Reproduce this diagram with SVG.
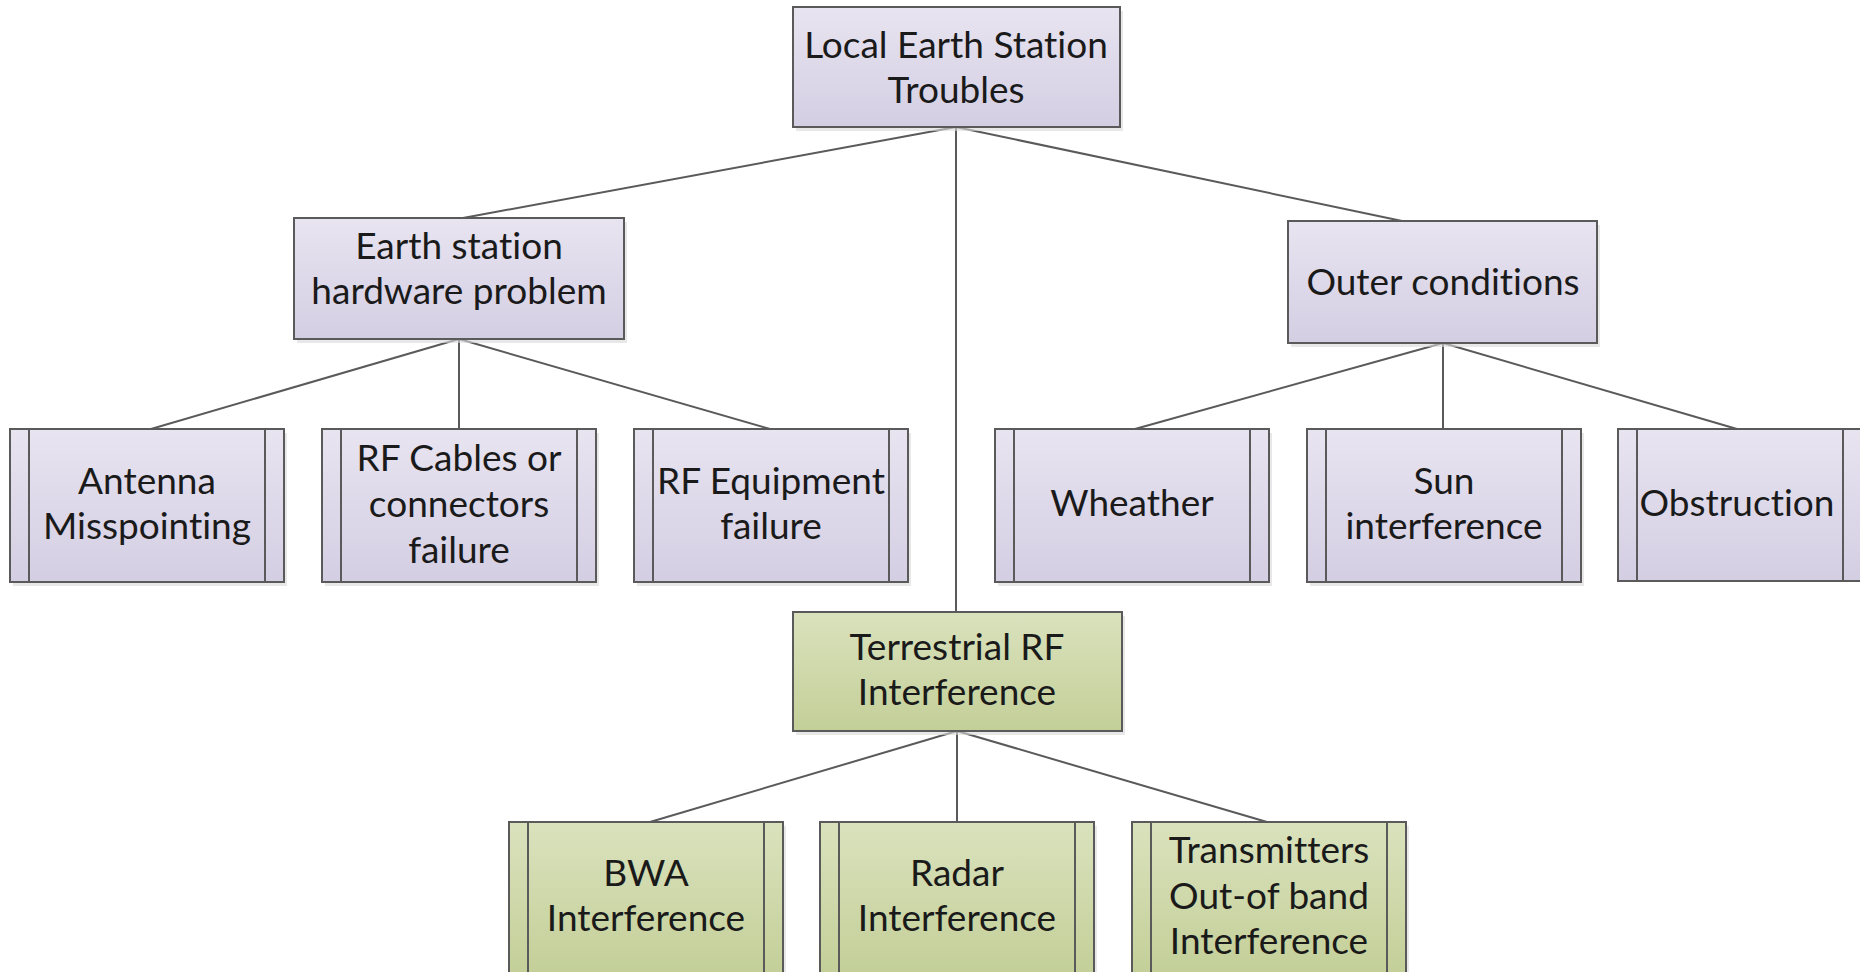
<svg xmlns="http://www.w3.org/2000/svg" width="1860" height="972" viewBox="0 0 1860 972">
<defs>
<linearGradient id="gp" x1="0" y1="0" x2="0" y2="1">
<stop offset="0" stop-color="#e8e4f0"/>
<stop offset="1" stop-color="#d4cee3"/>
</linearGradient>
<linearGradient id="gg" x1="0" y1="0" x2="0" y2="1">
<stop offset="0" stop-color="#dae2bd"/>
<stop offset="1" stop-color="#c3cf98"/>
</linearGradient>
</defs>
<style>
.p{fill:url(#gp);stroke:#5a5a5a;stroke-width:2}
.g{fill:url(#gg);stroke:#5a5a5a;stroke-width:2}
.sh{fill:#d9d9d9;opacity:0.6}
.bar{stroke:#5a5a5a;stroke-width:2;fill:none}
text{font-family:"Lato","Liberation Sans",sans-serif;font-size:37px;fill:#1a1a1a;text-anchor:middle;font-variant-ligatures:none}
.c line{stroke:#5a5a5a;stroke-width:2}
</style>
<g class="c" id="connectors">
<line x1="956" y1="127" x2="463" y2="218"/>
<line x1="956" y1="127" x2="956" y2="612"/>
<line x1="956" y1="127" x2="1402" y2="221"/>
<line x1="459" y1="339" x2="151" y2="429"/>
<line x1="459" y1="339" x2="459" y2="429"/>
<line x1="459" y1="339" x2="770" y2="429"/>
<line x1="1443" y1="343" x2="1135" y2="429"/>
<line x1="1443" y1="343" x2="1443" y2="429"/>
<line x1="1443" y1="343" x2="1737" y2="429"/>
<line x1="957" y1="731" x2="650" y2="822"/>
<line x1="957" y1="731" x2="957" y2="822"/>
<line x1="957" y1="731" x2="1267" y2="822"/>
</g>
<g id="root">
<rect class="sh" x="796" y="11" width="327" height="120"/>
<rect class="p" x="793" y="7" width="327" height="120"/>
<text x="956" y="58">Local Earth Station</text>
<text x="956" y="103">Troubles</text>
</g>
<g id="hw">
<rect class="sh" x="297" y="222" width="330" height="121"/>
<rect class="p" x="294" y="218" width="330" height="121"/>
<text x="459" y="259">Earth station</text>
<text x="459" y="304">hardware problem</text>
</g>
<g id="outer">
<rect class="sh" x="1291" y="225" width="309" height="122"/>
<rect class="p" x="1288" y="221" width="309" height="122"/>
<text x="1443" y="295">Outer conditions</text>
</g>
<g id="antenna">
<rect class="sh" x="13" y="433" width="274" height="153"/>
<rect class="p" x="10" y="429" width="274" height="153"/>
<path class="bar" d="M29 429V582M265 429V582"/>
<text x="147" y="494">Antenna</text>
<text x="147" y="539">Misspointing</text>
</g>
<g id="cables">
<rect class="sh" x="325" y="433" width="274" height="153"/>
<rect class="p" x="322" y="429" width="274" height="153"/>
<path class="bar" d="M341 429V582M577 429V582"/>
<text x="459" y="471">RF Cables or</text>
<text x="459" y="517">connectors</text>
<text x="459" y="563">failure</text>
</g>
<g id="equip">
<rect class="sh" x="637" y="433" width="274" height="153"/>
<rect class="p" x="634" y="429" width="274" height="153"/>
<path class="bar" d="M653 429V582M889 429V582"/>
<text x="771" y="494">RF Equipment</text>
<text x="771" y="539">failure</text>
</g>
<g id="weather">
<rect class="sh" x="998" y="433" width="274" height="153"/>
<rect class="p" x="995" y="429" width="274" height="153"/>
<path class="bar" d="M1014 429V582M1250 429V582"/>
<text x="1132" y="516">Wheather</text>
</g>
<g id="sun">
<rect class="sh" x="1310" y="433" width="274" height="153"/>
<rect class="p" x="1307" y="429" width="274" height="153"/>
<path class="bar" d="M1326 429V582M1562 429V582"/>
<text x="1444" y="494">Sun</text>
<text x="1444" y="539">interference</text>
</g>
<g id="obstruction">
<rect class="p" x="1618" y="429" width="244" height="152"/>
<path class="bar" d="M1637 429V581M1843 429V581"/>
<text x="1737" y="516">Obstruction</text>
</g>
<g id="terrestrial">
<rect class="sh" x="796" y="616" width="329" height="119"/>
<rect class="g" x="793" y="612" width="329" height="119"/>
<text x="957" y="660">Terrestrial RF</text>
<text x="957" y="705">Interference</text>
</g>
<g id="bwa">
<rect class="sh" x="512" y="826" width="274" height="153"/>
<rect class="g" x="509" y="822" width="274" height="153"/>
<path class="bar" d="M528 822V975M764 822V975"/>
<text x="646" y="886">BWA</text>
<text x="646" y="931">Interference</text>
</g>
<g id="radar">
<rect class="sh" x="823" y="826" width="274" height="153"/>
<rect class="g" x="820" y="822" width="274" height="153"/>
<path class="bar" d="M839 822V975M1075 822V975"/>
<text x="957" y="886">Radar</text>
<text x="957" y="931">Interference</text>
</g>
<g id="transmitters">
<rect class="sh" x="1135" y="826" width="274" height="153"/>
<rect class="g" x="1132" y="822" width="274" height="153"/>
<path class="bar" d="M1151 822V975M1387 822V975"/>
<text x="1269" y="863">Transmitters</text>
<text x="1269" y="909">Out-of band</text>
<text x="1269" y="954">Interference</text>
</g>
</svg>
